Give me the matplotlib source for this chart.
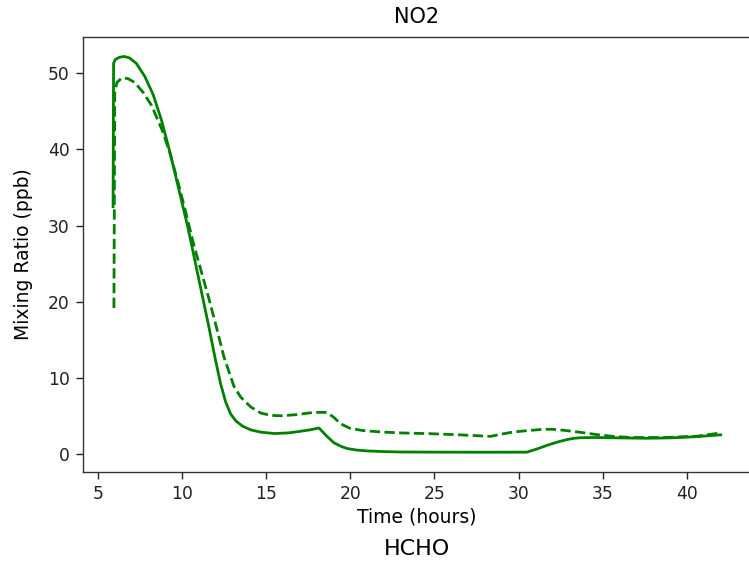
import matplotlib
matplotlib.use("Agg")
import matplotlib.pyplot as plt

# Solid series (time in hours, NO2 ppb)
t_solid = [5.92, 5.95, 6.05, 6.3, 6.6, 6.9, 7.3, 7.8, 8.3, 8.8, 9.3, 9.8, 10.34, 10.8,
           11.2, 11.62, 12.0, 12.3, 12.6, 12.9, 13.2, 13.6, 14.1, 14.7, 15.5, 16.3,
           17.0, 17.6, 18.15, 18.6, 19.04, 19.5, 19.83, 20.4, 21.0, 22.0, 23.0, 25.0,
           28.0, 30.5, 31.1, 31.7, 32.3, 32.88, 33.3, 33.67, 34.5, 36.0, 37.6, 39.0,
           40.5, 42.0]
v_solid = [32.5, 51.3, 51.8, 52.1, 52.2, 52.0, 51.3, 49.6, 47.2, 43.8, 39.6, 35.0, 30.0, 25.2,
           21.0, 16.6, 12.4, 9.3, 6.9, 5.3, 4.4, 3.7, 3.2, 2.9, 2.72, 2.8,
           3.0, 3.2, 3.45, 2.4, 1.5, 1.0, 0.75, 0.55, 0.44, 0.35, 0.3, 0.28,
           0.27, 0.28, 0.7, 1.18, 1.6, 1.93, 2.1, 2.17, 2.2, 2.15, 2.1, 2.15,
           2.3, 2.55]

# Dashed series
t_dash = [5.97, 6.02, 6.15, 6.45, 6.8, 7.2, 7.7, 8.2, 8.86, 9.3, 9.8, 10.3, 10.7, 11.13,
          11.6, 12.02, 12.5, 13.1, 13.5, 14.1, 14.7, 15.3, 15.9, 16.8, 17.85, 18.6, 19.0,
          19.43, 20.0, 20.8, 21.8, 23.0, 24.77, 26.5, 28.33, 29.0, 29.71, 30.5, 31.5,
          32.0, 32.68, 33.6, 34.66, 35.6, 36.64, 38.6, 40.6, 42.0]
v_dash = [19.2, 47.5, 48.8, 49.4, 49.3, 48.8, 47.5, 45.8, 42.4, 39.5, 35.5, 31.2, 27.6, 24.2,
          20.5, 17.0, 12.8, 8.9, 7.5, 6.2, 5.4, 5.1, 5.05, 5.2, 5.5, 5.5, 4.9,
          4.0, 3.4, 3.1, 2.93, 2.8, 2.7, 2.55, 2.35, 2.65, 2.93, 3.1, 3.28,
          3.28, 3.15, 2.9, 2.58, 2.35, 2.2, 2.2, 2.37, 2.8]

W, H = 749, 563
fig = plt.figure(figsize=(W / 100, H / 100), dpi=100)
left, right, top, bottom = 82.7, 751.0, 36.7, 472.0
ax = fig.add_axes([left / W, 1 - bottom / H, (right - left) / W, (bottom - top) / H])

ax.plot(t_solid, v_solid, color="green", linewidth=2.0, linestyle="-")
ax.plot(t_dash, v_dash, color="green", linewidth=2.0, linestyle="--")

ax.set_xticks([5, 10, 15, 20, 25, 30, 35, 40])
ax.set_yticks([0, 10, 20, 30, 40, 50])
ax.tick_params(labelsize=12.3, length=4.8, width=1.0, pad=4.5, colors="#222222")
for s in ax.spines.values():
    s.set_linewidth(1.0)
    s.set_color("#333333")

ax.set_title("NO2", fontsize=15, pad=10)
ax.set_xlabel("Time (hours)", fontsize=13.5, labelpad=3)
ax.set_ylabel("Mixing Ratio (ppb)", fontsize=13.5, labelpad=11)

fig.text(416.7 / W, 1 - 549 / H, "HCHO", fontsize=16, ha="center", va="center")

fig.savefig("out.png", dpi=100)
